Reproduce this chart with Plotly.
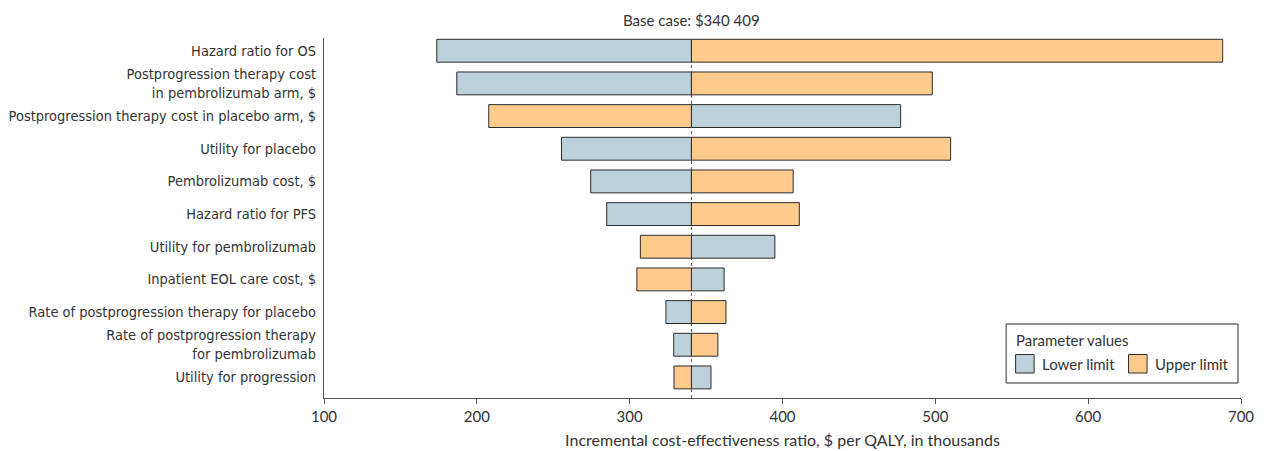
import plotly.graph_objects as go

# ---- data (values in thousands of $ per QALY) ----
base_case = 340.409
params = [
    "Hazard ratio for OS",
    "Postprogression therapy cost<br>in pembrolizumab arm, $",
    "Postprogression therapy cost in placebo arm, $",
    "Utility for placebo",
    "Pembrolizumab cost, $",
    "Hazard ratio for PFS",
    "Utility for pembrolizumab",
    "Inpatient EOL care cost, $",
    "Rate of postprogression therapy for placebo",
    "Rate of postprogression therapy<br>for pembrolizumab",
    "Utility for progression",
]
lower_limit = [173.8, 186.9, 477.3, 255.4, 274.5, 285.0, 395.0, 361.8, 323.7, 328.8, 353.2]
upper_limit = [688.0, 498.0, 207.8, 510.0, 407.0, 411.0, 307.0, 304.7, 363.0, 357.7, 329.0]
x_ticks = [100, 200, 300, 400, 500, 600, 700]
series_names = ["Lower limit", "Upper limit"]
legend_title = "Parameter values"

BLUE = "#BDD1DA"
ORANGE = "#FECB8D"
EDGE = "#2b2b2b"
TEXT = "#333333"
LABEL_FONT = "DejaVu Sans Condensed, Liberation Sans Narrow, sans-serif"
MAIN_FONT = "Lato, Open Sans, sans-serif"

W, H = 1265, 451
ML, MR, MT, MB = 323.5, 24, 38, 53
PW, PH = W - ML - MR, H - MT - MB


def px(xp):  # pixel -> paper x
    return (xp - ML) / PW


def py(yp):  # pixel -> paper y
    return (H - MB - yp) / PH


ypos = list(range(len(params)))

fig = go.Figure()
fig.add_trace(go.Bar(
    name=series_names[0], orientation="h", y=ypos,
    x=[v - base_case for v in lower_limit], base=base_case,
    width=0.7, marker=dict(color=BLUE, line=dict(color=EDGE, width=1)),
    showlegend=False,
))
fig.add_trace(go.Bar(
    name=series_names[1], orientation="h", y=ypos,
    x=[v - base_case for v in upper_limit], base=base_case,
    width=0.7, marker=dict(color=ORANGE, line=dict(color=EDGE, width=1)),
    showlegend=False,
))

# base-case reference line
fig.add_shape(type="line", xref="x", yref="paper", x0=base_case, x1=base_case,
              y0=0, y1=1, line=dict(color="#555555", width=1, dash="dot"), layer="below")
fig.add_annotation(x=base_case, xref="x", y=py(20), yref="paper",
                   text="Base case: $340 409", showarrow=False,
                   xanchor="center", yanchor="middle",
                   font=dict(family=MAIN_FONT, size=15, color=TEXT))

# legend box (drawn manually to match the reference layout)
fig.add_shape(type="rect", xref="paper", yref="paper",
              x0=px(1006), x1=px(1238), y0=py(383), y1=py(324),
              line=dict(color=EDGE, width=1), fillcolor="white", layer="above")
fig.add_annotation(xref="paper", yref="paper", x=px(1014), y=py(340),
                   text=legend_title, showarrow=False, xanchor="left", yanchor="middle",
                   font=dict(family=MAIN_FONT, size=15, color=TEXT))
for (sx, tx, col, name) in [(1015.5, 1040, BLUE, series_names[0]),
                            (1128.5, 1152.5, ORANGE, series_names[1])]:
    fig.add_shape(type="rect", xref="paper", yref="paper",
                  x0=px(sx), x1=px(sx + 18.5), y0=py(373), y1=py(354.5),
                  line=dict(color=EDGE, width=1), fillcolor=col, layer="above")
    fig.add_annotation(xref="paper", yref="paper", x=px(tx), y=py(364),
                       text=name, showarrow=False, xanchor="left", yanchor="middle",
                       font=dict(family=MAIN_FONT, size=15, color=TEXT))

fig.update_layout(
    width=W, height=H,
    margin=dict(l=ML, r=MR, t=MT, b=MB, autoexpand=False),
    paper_bgcolor="white", plot_bgcolor="white",
    barmode="overlay",
    showlegend=False,
    xaxis=dict(
        range=[100, 700], tickvals=x_ticks, ticks="outside", ticklen=5,
        tickcolor="#555555", showline=True, linecolor="#555555", linewidth=1,
        showgrid=False, zeroline=False,
        tickfont=dict(family=MAIN_FONT, size=15, color=TEXT),
        title=dict(text="Incremental cost-effectiveness ratio, $ per QALY, in thousands",
                   font=dict(family=MAIN_FONT, size=16, color=TEXT), standoff=10),
    ),
    yaxis=dict(
        range=[10.63, -0.39], tickvals=ypos, ticktext=params, ticks="",
        showline=True, linecolor="#555555", linewidth=1,
        showgrid=False, zeroline=False, ticklabelstandoff=4,
        tickfont=dict(family=LABEL_FONT, size=14.5, color=TEXT),
    ),
)

fig.write_html("out.html")
